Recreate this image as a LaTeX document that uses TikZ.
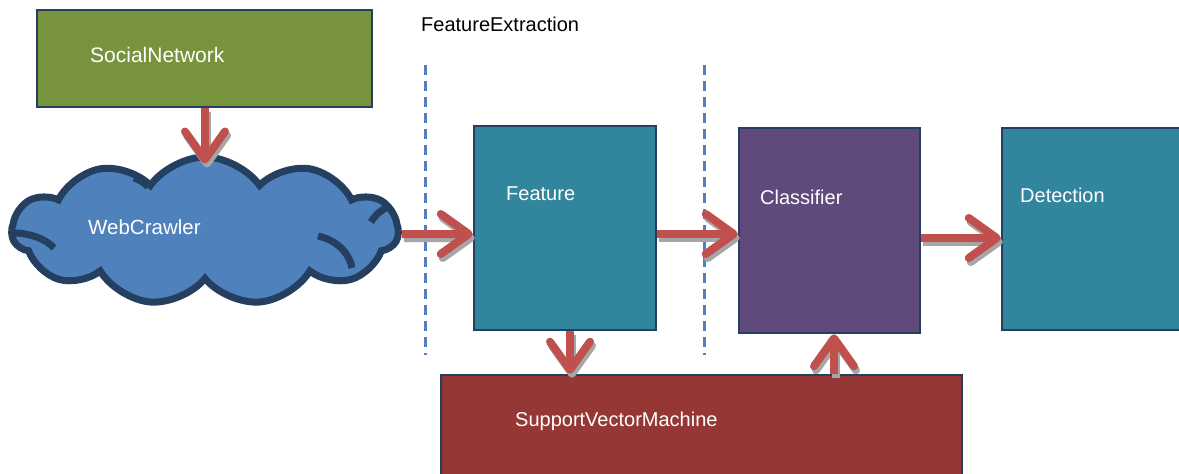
\documentclass[tikz,border=0pt]{standalone}
\usepackage{fontspec}
\setmainfont{Liberation Sans}
\usetikzlibrary{arrows.meta,shapes.symbols}
\definecolor{sngreen}{HTML}{77933C}
\definecolor{navy}{HTML}{243F60}
\definecolor{cloudblue}{HTML}{4F81BD}
\definecolor{teal}{HTML}{31859C}
\definecolor{purp}{HTML}{604A7B}
\definecolor{svmred}{HTML}{953735}
\definecolor{arrred}{HTML}{C0504D}
\definecolor{shadowgray}{HTML}{A6A6A6}
\definecolor{dashblue}{HTML}{4F81BD}
\tikzset{
  box/.style={draw=navy, line width=2.5pt, rectangle, inner sep=0pt},
  lbl/.style={text=white, anchor=west, inner sep=0pt, font=\fontsize{20}{24}\selectfont},
  flowtip/.style={line width=8pt, -{Straight Barb[length=28pt,width=40pt,round]}},
  flow/.style={flowtip, draw=arrred},
  flowshadow/.style={flowtip, draw=shadowgray, transform canvas={shift={(2pt,-4pt)}}},
  sep/.style={draw=dashblue, line width=3pt, dash pattern=on 10pt off 6pt},
  cloudarc/.style={draw=navy, line width=7pt}
}
\newcommand\flowarrow[3][]{%
  \draw[flowshadow,#1] #2 -- #3;
  \draw[flow,#1] #2 -- #3;}
\begin{document}
\begin{tikzpicture}[x=1pt,y=-1pt]
\useasboundingbox (0,0) rectangle (1179,474);
\clip (0,0) rectangle (1179,474);
\fill[white] (0,0) rectangle (1179,474);
% separators
\draw[sep] (425,65) -- (425,355);
\draw[sep] (704,65) -- (704,355);
\node[anchor=west, inner sep=0pt, font=\fontsize{20}{24}\selectfont] (fe) at (421,24) {FeatureExtraction};
% boxes
\node[box, fill=sngreen, minimum width=335pt, minimum height=97pt] (sn) at (204.5,58.5) {};
\node[lbl, font=\fontsize{21}{25}\selectfont] (snt) at (90,55) {SocialNetwork};
\node[cloud, cloud puffs=11, cloud puff arc=110, draw=navy, line width=7pt, fill=cloudblue,
      minimum width=386pt, minimum height=148pt, aspect=2.6] (web) at (205,231) {};
\draw[cloudarc] (14,233) .. controls (28,233) and (45,238) .. (54,248);
\draw[cloudarc] (318,236) .. controls (336,240) and (349,252) .. (352,268);
\draw[cloudarc] (371,222) .. controls (376,214) and (381,210) .. (388,207);
\draw[cloudarc] (134,178) .. controls (140,180) and (145,183) .. (148,187);
\node[lbl, font=\fontsize{20.5}{24}\selectfont] (webt) at (88,227) {WebCrawler};
\node[box, fill=teal, minimum width=182pt, minimum height=204pt] (feat) at (565,228) {};
\node[lbl] (featt) at (506,194) {Feature};
\node[box, fill=purp, minimum width=181pt, minimum height=205pt] (cls) at (829.5,230.5) {};
\node[lbl] (clst) at (760,197) {Classifier};
\node[box, fill=teal, minimum width=198pt, minimum height=202pt] (det) at (1101,229) {};
\node[lbl] (dett) at (1020,195) {Detection};
\node[box, fill=svmred, minimum width=521pt, minimum height=125pt] (svm) at (701.5,437.5) {};
\node[lbl] (svmt) at (515,421) {SupportVectorMachine};
% arrows
\coordinate (a1) at ([xshift=0.5pt]sn.south);
\flowarrow[shorten >=-10pt]{(a1)}{(a1 |- web.north)}
\flowarrow{([yshift=-3pt]web.east)}{([yshift=-6pt]feat.west)}
\flowarrow{([yshift=-6pt]feat.east)}{([yshift=-3.5pt]cls.west)}
\flowarrow{([yshift=-7.5pt]cls.east)}{([yshift=-9pt]det.west)}
\coordinate (a2) at ([xshift=5pt]feat.south);
\flowarrow{(a2)}{(a2 |- svm.north)}
\coordinate (a3) at ([xshift=4.5pt]cls.south);
\flowarrow{(a3 |- svm.north)}{(a3)}
\end{tikzpicture}
\end{document}
